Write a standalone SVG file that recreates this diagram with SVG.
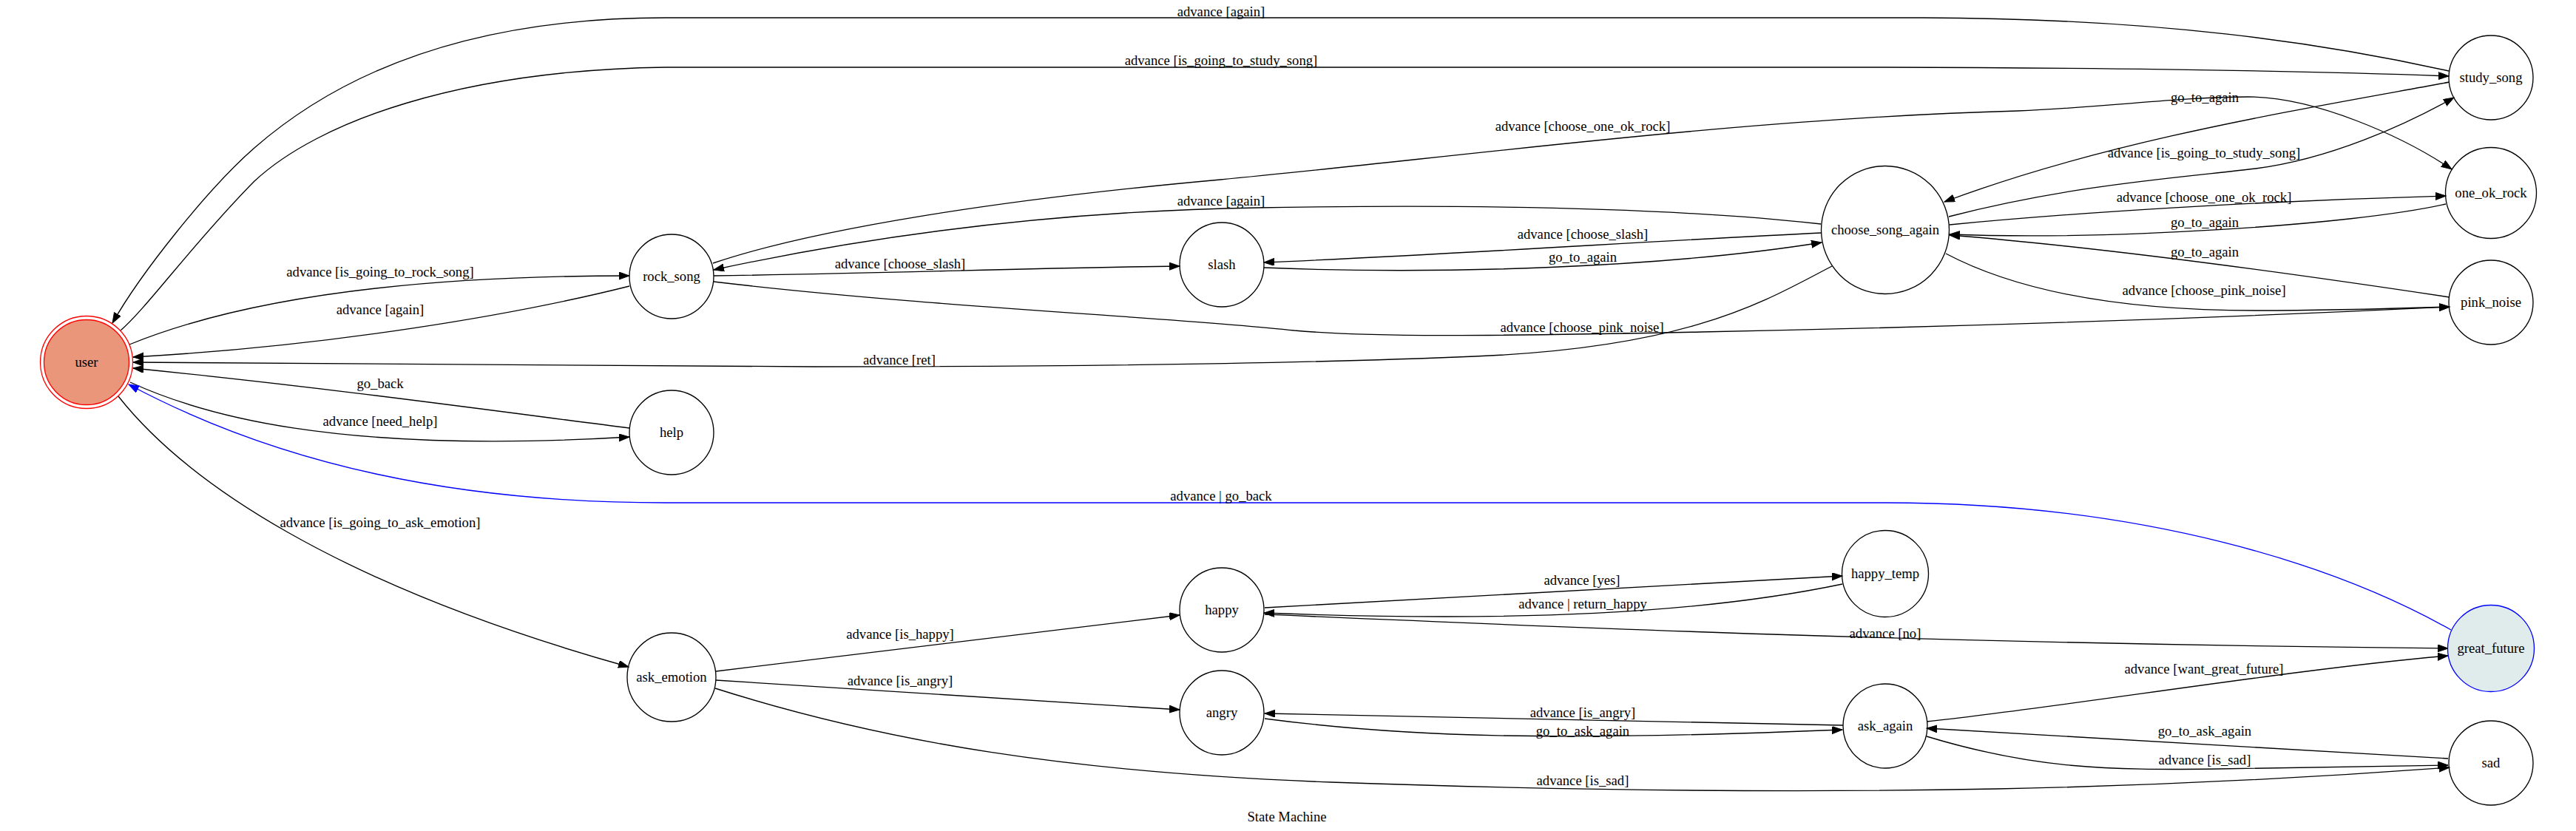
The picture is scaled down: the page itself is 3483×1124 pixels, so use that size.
<svg xmlns="http://www.w3.org/2000/svg" width="3483" height="1124" viewBox="0 0 3483 1124">
<style>
text{font-family:"Liberation Serif","Times New Roman",serif;font-size:18.67px;text-anchor:middle;fill:#000}
.n{fill:none;stroke:#000;stroke-width:1.33}
.e path{fill:none;stroke:#000;stroke-width:1.33;marker-end:url(#ah)}
.e path.b{stroke:#0000ff;marker-end:url(#ahb)}
</style>
<defs>
<marker id="ah" markerUnits="userSpaceOnUse" markerWidth="16" markerHeight="12" refX="14" refY="5" orient="auto" viewBox="0 0 16 12"><path d="M0,0L14,5L0,10z" fill="#000" stroke="#000" stroke-width="1"/></marker>
<marker id="ahb" markerUnits="userSpaceOnUse" markerWidth="16" markerHeight="12" refX="14" refY="5" orient="auto" viewBox="0 0 16 12"><path d="M0,0L14,5L0,10z" fill="#0000ff" stroke="#0000ff" stroke-width="1"/></marker>
</defs>
<rect width="3483" height="1124" fill="#fff"/>
<g id="connectors" class="e">
<g id="e1"><path d="M3311,96 C3140,58 2920,25 2600,24 L900,24 C650,24 470,90 344,200 C281,255 190,370 152,437"/><text x="1651" y="22">advance [again]</text></g>
<g id="e2"><path d="M163,447 C200,415 260,330 344,245 C430,165 620,95 900,91 L2550,91 C2900,92 3150,97 3311,103"/><text x="1651" y="88">advance [is_going_to_study_song]</text></g>
<g id="e3"><path d="M175,466 C300,415 500,373 851,373"/><text x="514" y="374">advance [is_going_to_rock_song]</text></g>
<g id="e4"><path d="M851,387 C700,425 450,468 180,483"/><text x="514" y="425">advance [again]</text></g>
<g id="e5"><path d="M2477,360 C2390,405 2290,470 1994,482 C1800,490 1500,496 1100,496 C800,496 500,493 180,490"/><text x="1216" y="493">advance [ret]</text></g>
<g id="e6"><path d="M176,517 C270,560 450,615 851,591"/><text x="514" y="576">advance [need_help]</text></g>
<g id="e7"><path d="M851,579 C700,560 450,525 180,498"/><text x="514" y="525">go_back</text></g>
<g id="e8"><path class="b" d="M3314,852 C3160,765 2900,680 2550,680 L900,680 C620,680 380,630 174,520"/><text x="1651" y="677">advance | go_back</text></g>
<g id="e9"><path d="M160,536 C250,650 450,790 850,902"/><text x="514" y="713">advance [is_going_to_ask_emotion]</text></g>
<g id="e10"><path d="M965,373 C1200,370 1400,362 1595,360"/><text x="1217" y="363">advance [choose_slash]</text></g>
<g id="e11"><path d="M2462,303 C2300,285 2050,275 1700,281 C1400,286 1150,325 965,365"/><text x="1651" y="278">advance [again]</text></g>
<g id="e12"><path d="M964,356 C1100,310 1350,270 1650,243 C1950,215 2350,160 2728,150 C2850,145 2950,131 3040,131 C3130,131 3250,185 3315,229"/><text x="2140" y="177">advance [choose_one_ok_rock]</text></g>
<g id="e13"><path d="M2636,304 C2800,288 3050,272 3307,265"/><text x="2980" y="273">advance [choose_one_ok_rock]</text></g>
<g id="e14"><path d="M3307,276 C3180,305 2850,325 2636,317"/><text x="2981" y="307">go_to_again</text></g>
<g id="e15"><path d="M3312,402 C3100,370 2850,335 2636,318"/><text x="2981" y="347">go_to_again</text></g>
<g id="e16"><path d="M2631,343 C2720,390 2850,420 3050,420 C3150,420 3250,417 3312,415"/><text x="2980" y="399">advance [choose_pink_noise]</text></g>
<g id="e17"><path d="M965,381 C1250,415 1600,430 1750,447 C1850,456 2000,455 2300,449 C2700,441 3000,430 3312,415"/><text x="2139" y="449">advance [choose_pink_noise]</text></g>
<g id="e18"><path d="M2462,315 C2250,325 1950,345 1709,355"/><text x="2140" y="323">advance [choose_slash]</text></g>
<g id="e19"><path d="M1709,362 C1950,372 2250,362 2463,328"/><text x="2140" y="354">go_to_again</text></g>
<g id="e20"><path d="M3312,111 C3100,150 2850,190 2629,273"/><text x="2981" y="138">go_to_again</text></g>
<g id="e21"><path d="M2635,293 C2800,250 2950,240 3050,228 C3150,215 3250,170 3318,132"/><text x="2980" y="213">advance [is_going_to_study_song]</text></g>
<g id="e22"><path d="M968,908 L1595,832"/><text x="1217" y="864">advance [is_happy]</text></g>
<g id="e23"><path d="M968,920 L1595,960"/><text x="1217" y="927">advance [is_angry]</text></g>
<g id="e24"><path d="M967,931 C1200,1005 1450,1045 1800,1058 C2200,1072 2500,1071 2700,1067 C2950,1062 3150,1050 3312,1038"/><text x="2140" y="1062">advance [is_sad]</text></g>
<g id="e25"><path d="M1710,822 L2491,779"/><text x="2139" y="791">advance [yes]</text></g>
<g id="e26"><path d="M2491,790 C2300,830 2050,842 1709,829"/><text x="2140" y="823">advance | return_happy</text></g>
<g id="e27"><path d="M1710,831 C2100,848 2600,870 3310,877"/><text x="2549" y="863">advance [no]</text></g>
<g id="e28"><path d="M2492,981 C2200,975 1950,968 1710,965"/><text x="2140" y="970">advance [is_angry]</text></g>
<g id="e29"><path d="M1710,972 C1900,997 2100,1003 2491,987"/><text x="2140" y="995">go_to_ask_again</text></g>
<g id="e30"><path d="M2605,976 C2800,955 3100,905 3310,887"/><text x="2980" y="911">advance [want_great_future]</text></g>
<g id="e31"><path d="M3310,1026 L2605,985"/><text x="2981" y="995">go_to_ask_again</text></g>
<g id="e32"><path d="M2605,996 C2750,1040 2850,1042 3000,1040 C3150,1038 3250,1035 3310,1035"/><text x="2981" y="1034">advance [is_sad]</text></g>
</g>
<g id="user"><circle cx="117" cy="490" r="62.5" fill="none" stroke="#ff0000" stroke-width="1.33"/><circle cx="117" cy="490" r="57.5" fill="#e9967a" stroke="#ff0000" stroke-width="1.33"/><text x="117" y="496">user</text></g>
<g id="rock_song"><circle class="n" cx="908" cy="374" r="57"/><text x="908" y="380">rock_song</text></g>
<g id="help"><circle class="n" cx="908" cy="585" r="57"/><text x="908" y="591">help</text></g>
<g id="ask_emotion"><circle class="n" cx="908" cy="916" r="60"/><text x="908" y="922">ask_emotion</text></g>
<g id="slash"><circle class="n" cx="1652" cy="358" r="57"/><text x="1652" y="364">slash</text></g>
<g id="happy"><circle class="n" cx="1652" cy="825" r="57"/><text x="1652" y="831">happy</text></g>
<g id="angry"><circle class="n" cx="1652" cy="964" r="57"/><text x="1652" y="970">angry</text></g>
<g id="choose_song_again"><circle class="n" cx="2549" cy="311" r="86.5"/><text x="2549" y="317">choose_song_again</text></g>
<g id="happy_temp"><circle class="n" cx="2549" cy="776" r="58.5"/><text x="2549" y="782">happy_temp</text></g>
<g id="ask_again"><circle class="n" cx="2549" cy="982" r="57"/><text x="2549" y="988">ask_again</text></g>
<g id="study_song"><circle class="n" cx="3368" cy="105" r="57"/><text x="3368" y="111">study_song</text></g>
<g id="one_ok_rock"><circle class="n" cx="3368" cy="261" r="61.5"/><text x="3368" y="267">one_ok_rock</text></g>
<g id="pink_noise"><circle class="n" cx="3368" cy="409" r="57"/><text x="3368" y="415">pink_noise</text></g>
<g id="great_future"><circle cx="3368" cy="877" r="58.5" fill="#e0ecec" stroke="#0000ff" stroke-width="1.33"/><text x="3368" y="883">great_future</text></g>
<g id="sad"><circle class="n" cx="3368" cy="1032" r="57"/><text x="3368" y="1038">sad</text></g>
<text x="1740" y="1111">State Machine</text>
</svg>
